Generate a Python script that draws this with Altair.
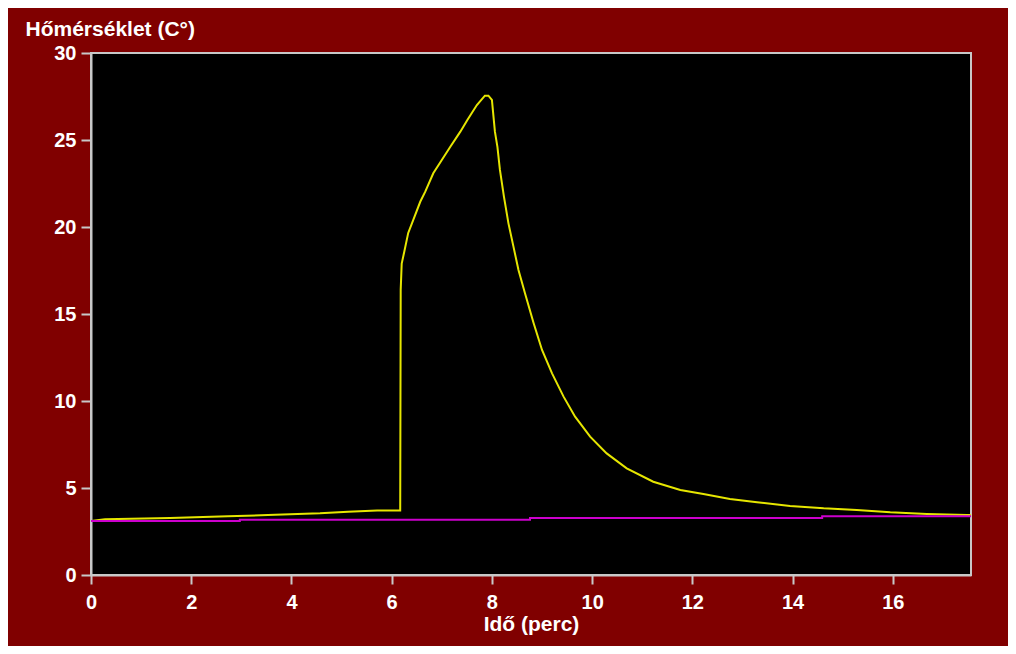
import altair as alt
import pandas as pd

# Yellow curve (measured temperature)
yellow_t = [0, 0.28, 1.58, 2.73, 3.53, 4.57, 5.13, 5.71, 6.17, 6.18, 6.20, 6.25, 6.33,
            6.41, 6.57, 6.67, 6.83, 7.00, 7.17, 7.37, 7.51, 7.70, 7.86, 7.93, 8.00,
            8.06, 8.11, 8.16, 8.24, 8.33, 8.43, 8.53, 8.66, 8.83, 9.00, 9.20, 9.43,
            9.66, 9.96, 10.29, 10.69, 11.22, 11.76, 12.22, 12.75, 13.29, 13.95,
            14.62, 15.28, 15.95, 16.68, 17.48, 17.56]
yellow_v = [3.10, 3.20, 3.28, 3.37, 3.45, 3.55, 3.64, 3.70, 3.70, 16.4, 17.9, 18.56,
            19.66, 20.25, 21.45, 22.03, 23.09, 23.85, 24.61, 25.48, 26.15, 27.01,
            27.55, 27.55, 27.30, 25.48, 24.61, 23.28, 21.74, 20.21, 18.87, 17.53,
            16.19, 14.50, 12.93, 11.59, 10.25, 9.10, 7.95, 6.99, 6.13, 5.36, 4.89,
            4.66, 4.37, 4.18, 3.97, 3.83, 3.74, 3.60, 3.51, 3.45, 3.45]

# Magenta reference line (stepped)
magenta_t = [0, 2.97, 8.76, 14.59, 17.56]
magenta_v = [3.10, 3.18, 3.28, 3.37, 3.37]

x_ticks = [0, 2, 4, 6, 8, 10, 12, 14, 16]
y_ticks = [0, 5, 10, 15, 20, 25, 30]

df_y = pd.DataFrame({"t": yellow_t, "v": yellow_v})
df_m = pd.DataFrame({"t": magenta_t, "v": magenta_v})

x_enc = alt.X(
    "t:Q",
    scale=alt.Scale(domain=[0, 17.56], nice=False, zero=False),
    axis=alt.Axis(
        values=x_ticks, title="Idő (perc)", tickSize=9, labelPadding=8,
        labelFlush=False, titleY=55, titleBaseline="alphabetic",
    ),
)
y_enc = alt.Y(
    "v:Q",
    scale=alt.Scale(domain=[0, 30], nice=False),
    axis=alt.Axis(
        values=y_ticks, title="Hőmérséklet (C°)", tickSize=10, labelPadding=5,
        labelFlush=False, titleAngle=0, titleAlign="left",
        titleBaseline="alphabetic", titleX=-66, titleY=-18,
    ),
)

yellow = alt.Chart(df_y).mark_line(color="#e6e600", strokeWidth=2, clip=True).encode(
    x=x_enc, y=y_enc
)
magenta = alt.Chart(df_m).mark_line(
    color="#cc00cc", strokeWidth=2, interpolate="step-after", clip=True
).encode(x="t:Q", y="v:Q")

chart = (
    alt.layer(yellow, magenta)
    .properties(
        width=880,
        height=522,
        padding={"left": 83, "top": 45, "right": 37, "bottom": 71},
        autosize=alt.AutoSizeParams(type="none"),
        background="#800000",
    )
    .configure_view(fill="black", stroke="#c8c8c8", strokeWidth=2)
    .configure_axis(
        grid=False,
        domainColor="#c8c8c8",
        domainWidth=2,
        tickColor="#c8c8c8",
        tickWidth=2,
        labelColor="white",
        labelFont="Liberation Sans",
        labelFontWeight="bold",
        labelFontSize=20,
        titleColor="white",
        titleFont="Liberation Sans",
        titleFontWeight="bold",
        titleFontSize=21,
    )
)

chart.save("out.html", embed_options={"renderer": "svg", "actions": False})
